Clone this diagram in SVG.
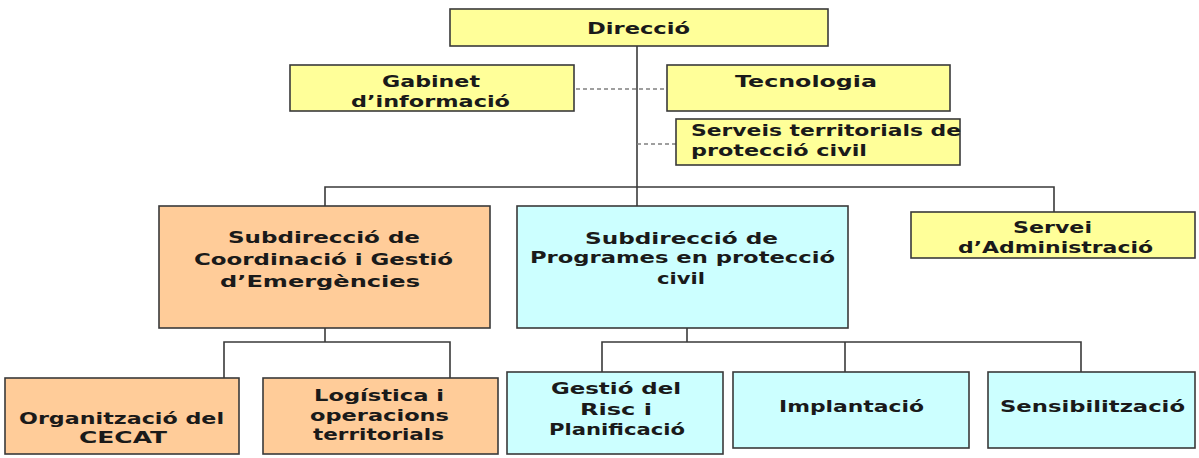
<svg xmlns="http://www.w3.org/2000/svg" width="1199" height="458" viewBox="0 0 1199 458">
<style>
.box{stroke:#3a3a3a;stroke-width:1.6}
.y{fill:#FFFF99}
.o{fill:#FFCC99}
.c{fill:#CCFFFF}
text{font-family:"DejaVu Sans","Verdana",sans-serif;font-weight:bold;font-size:16px;fill:#1a1a1a;text-anchor:middle}
.l{text-anchor:start}
.ln{stroke:#3a3a3a;stroke-width:1.6;fill:none}
.ds{stroke:#808080;stroke-width:1.6;stroke-dasharray:4 3;fill:none}
</style>
<rect width="1199" height="458" fill="#ffffff"/>
<g id="connectors">
<path class="ln" d="M637,46 V187"/>
<path class="ds" d="M576,89 H667"/>
<path class="ds" d="M637,144 H676"/>
<path class="ln" d="M325,206 V187 H1054 V212"/>
<path class="ln" d="M637,187 V206"/>
<path class="ln" d="M325,328 V342"/>
<path class="ln" d="M224,378 V342 H450 V378"/>
<path class="ln" d="M687,328 V342"/>
<path class="ln" d="M602,372 V342 H1081 V372"/>
<path class="ln" d="M845,342 V372"/>
</g>
<g id="direccio">
<rect class="box y" x="450" y="9" width="378" height="37"/>
<text x="638.5" y="34" textLength="103" lengthAdjust="spacingAndGlyphs">Direcció</text>
</g>
<g id="gabinet">
<rect class="box y" x="290" y="65" width="284" height="46"/>
<text x="431" y="87" textLength="98" lengthAdjust="spacingAndGlyphs">Gabinet</text>
<text x="430.5" y="107" textLength="159" lengthAdjust="spacingAndGlyphs">d’informació</text>
</g>
<g id="tecnologia">
<rect class="box y" x="667" y="65" width="283" height="46"/>
<text x="806" y="87" textLength="142" lengthAdjust="spacingAndGlyphs">Tecnologia</text>
</g>
<g id="serveis-territorials">
<rect class="box y" x="676" y="119" width="284" height="46"/>
<text class="l" x="691" y="136" textLength="270" lengthAdjust="spacingAndGlyphs">Serveis territorials de</text>
<text class="l" x="691" y="156" textLength="176" lengthAdjust="spacingAndGlyphs">protecció civil</text>
</g>
<g id="subdireccio-coordinacio">
<rect class="box o" x="159" y="206" width="331" height="122"/>
<text x="324" y="243" textLength="192" lengthAdjust="spacingAndGlyphs">Subdirecció de</text>
<text x="323.5" y="265" textLength="259" lengthAdjust="spacingAndGlyphs">Coordinació i Gestió</text>
<text x="320" y="287" textLength="200" lengthAdjust="spacingAndGlyphs">d’Emergències</text>
</g>
<g id="subdireccio-programes">
<rect class="box c" x="517" y="206" width="331" height="122"/>
<text x="681.5" y="244" textLength="193" lengthAdjust="spacingAndGlyphs">Subdirecció de</text>
<text x="682.5" y="263" textLength="305" lengthAdjust="spacingAndGlyphs">Programes en protecció</text>
<text x="681" y="284" textLength="48" lengthAdjust="spacingAndGlyphs">civil</text>
</g>
<g id="servei-administracio">
<rect class="box y" x="911" y="212" width="284" height="46"/>
<text x="1052.5" y="233" textLength="79" lengthAdjust="spacingAndGlyphs">Servei</text>
<text x="1055.5" y="253" textLength="195" lengthAdjust="spacingAndGlyphs">d’Administració</text>
</g>
<g id="organitzacio-cecat">
<rect class="box o" x="5" y="378" width="234" height="76"/>
<text x="121.5" y="424" textLength="205" lengthAdjust="spacingAndGlyphs">Organització del</text>
<text x="123" y="443" textLength="88" lengthAdjust="spacingAndGlyphs">CECAT</text>
</g>
<g id="logistica">
<rect class="box o" x="263" y="378" width="235" height="76"/>
<text x="379" y="401" textLength="130" lengthAdjust="spacingAndGlyphs">Logística i</text>
<text x="379.5" y="421" textLength="139" lengthAdjust="spacingAndGlyphs">operacions</text>
<text x="378.5" y="440" textLength="131" lengthAdjust="spacingAndGlyphs">territorials</text>
</g>
<g id="gestio-risc">
<rect class="box c" x="507" y="372" width="216" height="82"/>
<text x="616" y="394" textLength="130" lengthAdjust="spacingAndGlyphs">Gestió del</text>
<text x="616" y="415" textLength="72" lengthAdjust="spacingAndGlyphs">Risc i</text>
<text x="617" y="435" textLength="136" lengthAdjust="spacingAndGlyphs">Planificació</text>
</g>
<g id="implantacio">
<rect class="box c" x="733" y="372" width="236" height="76"/>
<text x="851.5" y="412" textLength="145" lengthAdjust="spacingAndGlyphs">Implantació</text>
</g>
<g id="sensibilitzacio">
<rect class="box c" x="988" y="372" width="207" height="76"/>
<text x="1092.5" y="412" textLength="185" lengthAdjust="spacingAndGlyphs">Sensibilització</text>
</g>
</svg>
